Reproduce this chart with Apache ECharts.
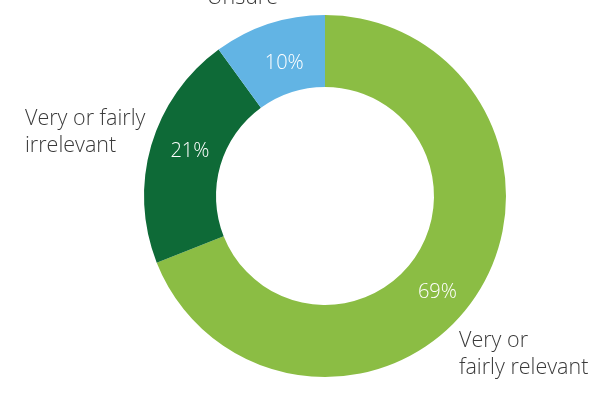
<!DOCTYPE html>
<html>
<head>
<meta charset="utf-8">
<script src="https://cdn.jsdelivr.net/npm/echarts@6/dist/echarts.min.js"></script>
<style>
    html, body { margin: 0; padding: 0; background: #fff; }
    #chart { width: 600px; height: 417px; }
</style>
</head>
<body>
<div id="chart"></div>
<script>
// share of respondents
var categories = ['Very or\nfairly relevant', 'Very or fairly\nirrelevant', 'Unsure'];
var values = [69, 21, 10];
var colors = ['#8bbd44', '#0e6a37', '#62b4e4'];

var myChart = echarts.init(document.getElementById('chart'), null, {width: 600, height: 417});

// nudge the percentages to where the original has them
var pctOffset = [[-10, 13], [7, -3], [5, 8]];

var ringData = [];
var nameData = [];
for (var i = 0; i < categories.length; i++) {
    ringData.push({
        name: categories[i],
        value: values[i],
        itemStyle: {color: colors[i]},
        label: {offset: pctOffset[i]}
    });
    nameData.push({name: categories[i], value: values[i]});
}

// where the category names sit round the ring
var namePos = [
    {x: 459, y: 327},
    {x: 25, y: 105},
    {x: 207, y: -16}
];

var option = {
    animation: false,
    series: [
        {
            type: 'pie',
            center: [325, 196],
            radius: [109, 181],
            startAngle: 90,
            clockwise: true,
            silent: true,
            label: {
                show: true,
                position: 'inside',
                formatter: '{c}%',
                color: '#fff',
                fontFamily: 'Open Sans',
                fontSize: 20,
                fontWeight: 300
            },
            labelLine: {show: false},
            data: ringData
        },
        {
            type: 'pie',
            center: [325, 196],
            radius: [109, 181],
            startAngle: 90,
            clockwise: true,
            silent: true,
            itemStyle: {color: 'rgba(0,0,0,0)'},
            label: {
                show: true,
                position: 'outside',
                formatter: '{b}',
                color: '#3a3a3a',
                fontFamily: 'Open Sans',
                fontSize: 21.5,
                fontWeight: 300,
                lineHeight: 27,
                overflow: 'none',
                width: 300
            },
            labelLine: {show: false},
            labelLayout: function (params) {
                var p = namePos[params.dataIndex];
                return {x: p.x, y: p.y, align: 'left', verticalAlign: 'top'};
            },
            data: nameData
        }
    ]
};
myChart.setOption(option, false);
</script>
</body>
</html>
